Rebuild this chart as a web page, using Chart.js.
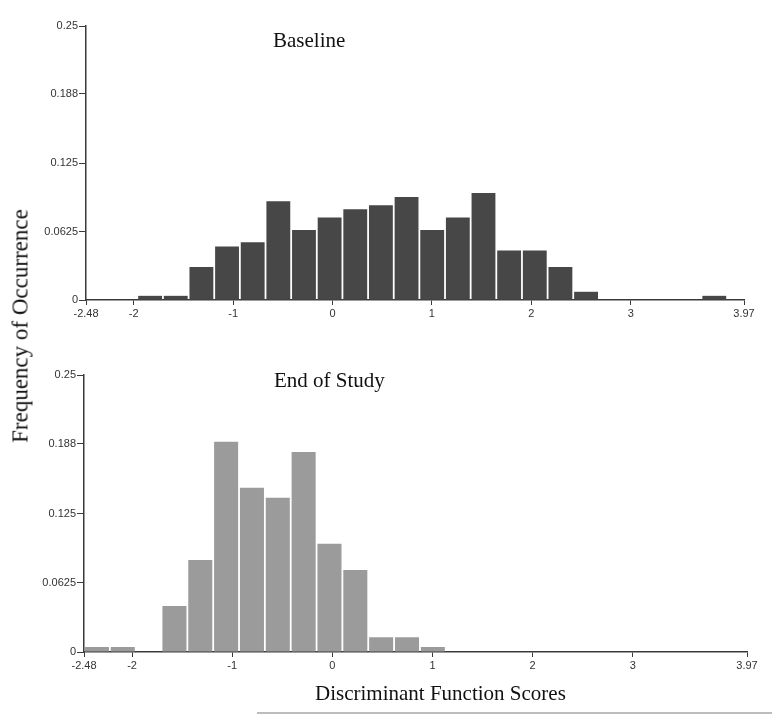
<!DOCTYPE html>
<html>
<head>
<meta charset="utf-8">
<script src="https://cdn.jsdelivr.net/npm/chart.js@4.4.0/dist/chart.umd.min.js"></script>
<style>
  html, body { margin: 0; padding: 0; background: #fff; }
  #wrap { position: relative; width: 772px; height: 714px; overflow: hidden; }
  canvas { position: absolute; left: 0; }
  .lbl { position: absolute; font-family: "Liberation Serif", "DejaVu Serif", serif; font-size: 21px; line-height: 1; color: #111; white-space: nowrap; }
  #ytitle { left: 20px; top: 326px; font-size: 23px; transform: translate(-50%, -50%) rotate(-90deg); }
  #rule { position: absolute; left: 257px; top: 712px; width: 515px; height: 2px; background: #bdbdbd; }
</style>
</head>
<body>
<div id="wrap">
  <canvas id="top" width="772" height="330" style="top:0"></canvas>
  <canvas id="bottom" width="772" height="333" style="top:349px"></canvas>
  <div class="lbl" style="left:273px; top:30px">Baseline</div>
  <div class="lbl" style="left:274px; top:370px">End of Study</div>
  <div class="lbl" id="ytitle">Frequency of Occurrence</div>
  <div class="lbl" style="left:315px; top:683px">Discriminant Function Scores</div>
  <div id="rule"></div>
</div>
<script>
// histogram bins (centres), width 0.258 from -2.48 to 3.97
const binCenters = [-2.351, -2.093, -1.835, -1.577, -1.319, -1.061, -0.803, -0.545, -0.287, -0.029,
  0.229, 0.487, 0.745, 1.003, 1.261, 1.519, 1.777, 2.035, 2.293, 2.551,
  2.809, 3.067, 3.325, 3.583, 3.841];

const baseline = [0, 0, 0.0038, 0.0038, 0.0301, 0.0489, 0.0526, 0.0902, 0.0639, 0.0752,
  0.0827, 0.0865, 0.0940, 0.0639, 0.0752, 0.0977, 0.0451, 0.0451, 0.0301, 0.0075,
  0, 0, 0, 0, 0.0038];

const endOfStudy = [0.0045, 0.0045, 0, 0.0416, 0.0831, 0.1898, 0.1482, 0.1392, 0.1804, 0.0976,
  0.0741, 0.0133, 0.0133, 0.0045, 0, 0, 0, 0, 0, 0,
  0, 0, 0, 0, 0];

const xTickValues = [-2.48, -2, -1, 0, 1, 2, 3, 4.14];
const xTickLabels = ['-2.48', '-2', '-1', '0', '1', '2', '3', '3.97'];
const yTickValues = [0, 0.0625, 0.125, 0.188, 0.25];
const yTickLabels = ['0', '0.0625', '0.125', '0.188', '0.25'];

const axisColor = '#3a3a3a';
const tickFont = { family: '"Liberation Sans", Arial, sans-serif', size: 11 };

function makeHistogram(canvasId, values, color, yWidth, padRight) {
  const ctx = document.getElementById(canvasId).getContext('2d');
  return new Chart(ctx, {
    type: 'bar',
    data: {
      datasets: [{
        data: binCenters.map((x, i) => ({ x: x, y: values[i] })),
        backgroundColor: color,
        borderWidth: 0,
        barPercentage: 0.93,
        categoryPercentage: 1
      }]
    },
    options: {
      responsive: false,
      animation: false,
      layout: { padding: { top: 26, right: padRight, left: 0, bottom: 0 } },
      plugins: { legend: { display: false }, tooltip: { enabled: false } },
      scales: {
        x: {
          type: 'linear',
          min: -2.48,
          max: 4.14,
          offset: false,
          afterBuildTicks: scale => { scale.ticks = xTickValues.map(v => ({ value: v })); },
          afterFit: scale => { scale.height = 30; },
          ticks: {
            autoSkip: false,
            maxRotation: 0,
            padding: 2,
            color: '#333',
            font: tickFont,
            callback: (v, i) => xTickLabels[i]
          },
          grid: { offset: false, drawOnChartArea: false, drawTicks: true, tickLength: 5, color: axisColor },
          border: { display: true, color: axisColor, width: 1.5 }
        },
        y: {
          min: 0,
          max: 0.25,
          afterBuildTicks: scale => { scale.ticks = yTickValues.map(v => ({ value: v })); },
          afterFit: scale => { scale.width = yWidth; },
          ticks: {
            padding: 1,
            color: '#333',
            font: tickFont,
            callback: (v, i) => yTickLabels[i]
          },
          grid: { drawOnChartArea: false, drawTicks: true, tickLength: 7, color: axisColor },
          border: { display: true, color: axisColor, width: 1.5 }
        }
      }
    }
  });
}

makeHistogram('top', baseline, '#474747', 86, 28);
makeHistogram('bottom', endOfStudy, '#9b9b9b', 84, 25);
</script>
</body>
</html>
